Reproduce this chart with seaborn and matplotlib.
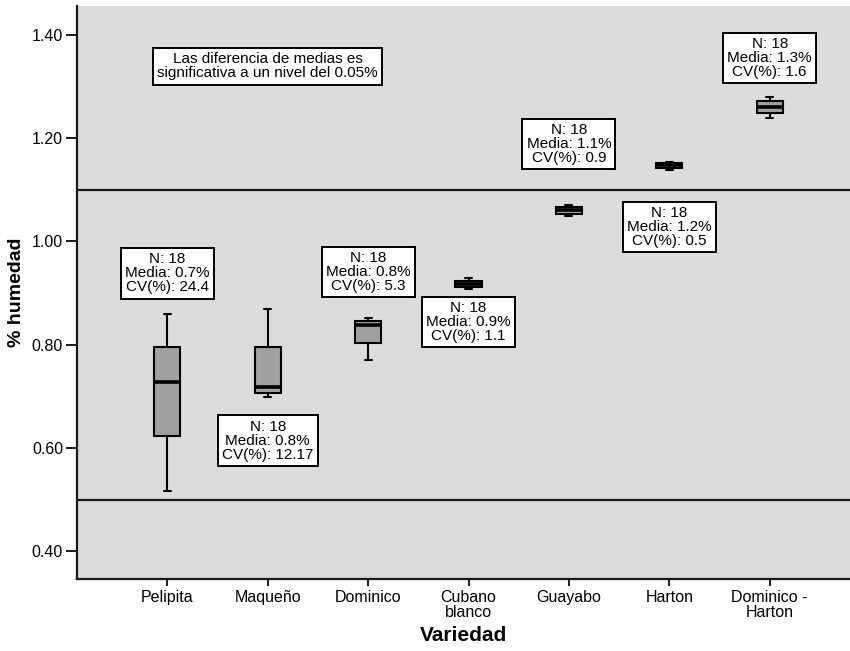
import numpy as np
import pandas as pd
import matplotlib
matplotlib.use("Agg")
import matplotlib.pyplot as plt
from matplotlib.ticker import FormatStrFormatter
import seaborn as sns

# ---- data (five-number summaries: min, Q1, median, Q3, max)
categories = ["Pelipita", "Maqueño", "Dominico", "Cubano\nblanco", "Guayabo",
              "Harton", "Dominico -\nHarton"]
pelipita = [0.517, 0.623, 0.728, 0.796, 0.860]
maqueno = [0.699, 0.707, 0.718, 0.796, 0.870]
dominico = [0.771, 0.804, 0.838, 0.845, 0.851]
cubano = [0.907, 0.912, 0.918, 0.924, 0.930]
guayabo = [1.049, 1.053, 1.060, 1.066, 1.070]
harton = [1.138, 1.143, 1.148, 1.152, 1.154]
dom_harton = [1.240, 1.249, 1.260, 1.272, 1.280]
series = [pelipita, maqueno, dominico, cubano, guayabo, harton, dom_harton]

n_values = [18, 18, 18, 18, 18, 18, 18]
media = ["0.7%", "0.8%", "0.8%", "0.9%", "1.1%", "1.2%", "1.3%"]
cv = ["24.4", "12.17", "5.3", "1.1", "0.9", "0.5", "1.6"]
label_y = [0.938, 0.614, 0.941, 0.844, 1.189, 1.028, 1.355]

ref_lines = [1.10, 0.50]
note = "Las diferencia de medias es\nsignificativa a un nivel del 0.05%"
note_pos = (1.0, 1.339)
y_ticks = [0.40, 0.60, 0.80, 1.00, 1.20, 1.40]

df = pd.DataFrame({
    "Variedad": [c for c, s in zip(categories, series) for _ in s],
    "humedad": [v for s in series for v in s],
})

sns.set_style("white")
plt.rcParams["font.family"] = ["Liberation Sans", "DejaVu Sans"]
plt.rcParams["text.color"] = "black"
plt.rcParams["axes.labelcolor"] = "black"
plt.rcParams["xtick.color"] = "black"
plt.rcParams["ytick.color"] = "black"

fig = plt.figure(figsize=(8.5, 6.51), dpi=100)
ax = fig.add_axes([77 / 850, 72 / 651, 773 / 850, 573 / 651])
ax.set_facecolor("#dcdcdc")

sns.boxplot(data=df, x="Variedad", y="humedad", order=categories, ax=ax,
            whis=(0, 100), width=0.26, color="#a0a0a0", saturation=1,
            linecolor="black", linewidth=1.5,
            medianprops=dict(linewidth=2.6, color="black"),
            capwidths=0.07)

for y in ref_lines:
    ax.axhline(y, color="#1a1a1a", linewidth=1.6, zorder=1)

for i, (n, m, c, yy) in enumerate(zip(n_values, media, cv, label_y)):
    ax.text(i, yy, f"N: {n}\nMedia: {m}\nCV(%): {c}", ha="center", va="center",
            fontsize=11, linespacing=1.0, zorder=5, color="black",
            bbox=dict(boxstyle="square,pad=0.28", facecolor="white",
                      edgecolor="black", linewidth=1.4))

ax.text(note_pos[0], note_pos[1], note, ha="center", va="center",
        fontsize=11, linespacing=1.0, zorder=5, color="black",
        bbox=dict(boxstyle="square,pad=0.28", facecolor="white",
                  edgecolor="black", linewidth=1.4))

ax.set_xlim(-0.9, 6.8)
ax.set_ylim(0.346, 1.456)
ax.set_yticks(y_ticks)
ax.yaxis.set_major_formatter(FormatStrFormatter("%.2f"))

for side in ["top", "right"]:
    ax.spines[side].set_visible(False)
for side in ["left", "bottom"]:
    ax.spines[side].set_color("#1a1a1a")
    ax.spines[side].set_linewidth(1.6)

ax.tick_params(axis="y", which="major", direction="out", length=8, width=1.4,
               color="#1a1a1a", labelsize=11.5, left=True, pad=2,
               labelcolor="black")
ax.tick_params(axis="x", which="major", direction="out", length=5, width=1.4,
               color="#1a1a1a", labelsize=11.5, bottom=True, pad=3,
               labelcolor="black")
for lab in ax.get_xticklabels():
    lab.set_linespacing(0.95)

ax.set_xlabel("Variedad", fontsize=15, fontweight="bold", labelpad=5)
ax.set_ylabel("% humedad", fontsize=14, fontweight="bold", labelpad=5)

fig.savefig("out.png", dpi=100, facecolor="white")
